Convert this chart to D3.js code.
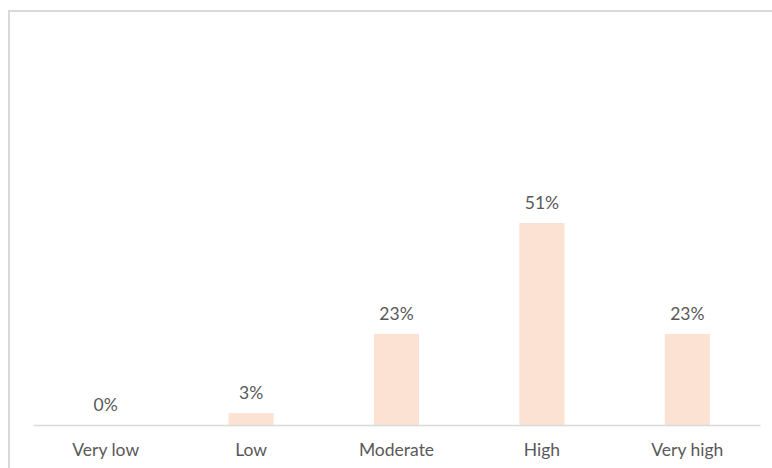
<!DOCTYPE html>
<html>
<head>
<meta charset="utf-8">
<script src="https://cdn.jsdelivr.net/npm/d3@7"></script>
<style>
  html, body { margin: 0; padding: 0; background: #ffffff; }
  svg { display: block; }
  text { font-family: Lato, "Open Sans", sans-serif; fill: #595959; }
</style>
</head>
<body>
<svg id="chart" width="772" height="468"></svg>
<script>
// Share of responses by rating level
const categories = ["Very low", "Low", "Moderate", "High", "Very high"];
const values = [0, 3, 23, 51, 23];
const valueLabels = ["0%", "3%", "23%", "51%", "23%"];

const width = 772, height = 468;
const svg = d3.select("#chart");

// chart area frame (only top and left edges fall inside the view)
svg.append("rect")
  .attr("x", 9).attr("y", 11)
  .attr("width", 800).attr("height", 500)
  .attr("fill", "none")
  .attr("stroke", "#d9d9d9")
  .attr("stroke-width", 2);

const plot = { left: 33, right: 760, bottom: 425 };

const x = d3.scaleBand()
  .domain(categories)
  .range([plot.left, plot.right])
  .paddingInner(0.69)
  .paddingOuter(0.345);

const y = d3.scaleLinear()
  .domain([0, 60])
  .range([plot.bottom, plot.bottom - 60 * (202 / 51)]);

// bars
svg.append("g")
  .selectAll("rect")
  .data(values)
  .join("rect")
  .attr("x", (d, i) => x(categories[i]))
  .attr("y", d => y(d))
  .attr("width", x.bandwidth())
  .attr("height", d => y(0) - y(d))
  .attr("fill", "#fbe2d3");

// value labels
svg.append("g")
  .selectAll("text")
  .data(values)
  .join("text")
  .attr("x", (d, i) => x(categories[i]) + x.bandwidth() / 2)
  .attr("y", d => y(d) - 14)
  .attr("text-anchor", "middle")
  .attr("font-size", 17.5)
  .text((d, i) => valueLabels[i]);

// category axis
const xAxis = svg.append("g")
  .attr("transform", `translate(0,${plot.bottom})`)
  .call(d3.axisBottom(x).tickSize(0).tickPadding(0));
xAxis.select(".domain").attr("stroke", "#d9d9d9").attr("stroke-width", 1.5);
xAxis.selectAll(".tick text")
  .attr("dy", null)
  .attr("y", 31)
  .attr("font-size", 17.5)
  .style("font-family", "Lato, 'Open Sans', sans-serif")
  .attr("fill", "#595959");
</script>
</body>
</html>
